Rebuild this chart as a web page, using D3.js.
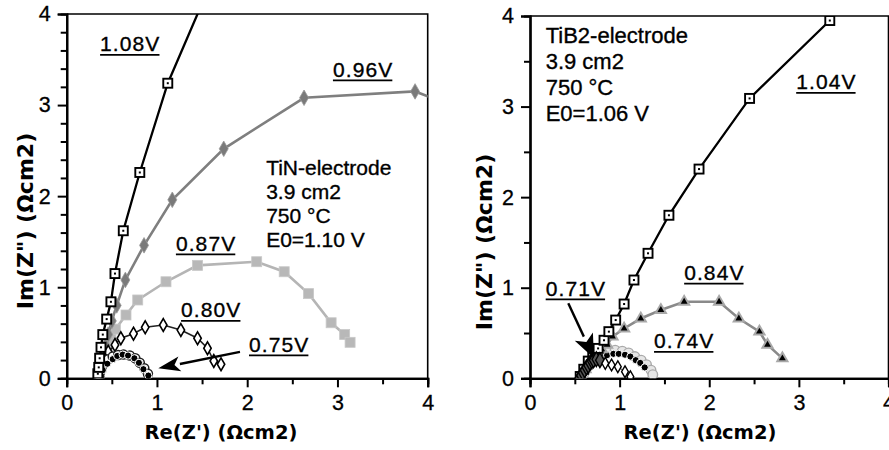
<!DOCTYPE html>
<html><head><meta charset="utf-8">
<script src="https://cdn.jsdelivr.net/npm/d3@7/dist/d3.min.js"></script>
<style>body{margin:0;background:#fff;} svg{display:block;}</style>
</head><body>
<svg id="c" width="889" height="450"></svg>
<script>
// ---------------- data ----------------
const majorTicks = [0, 1, 2, 3, 4];
const xMinorTicks = [0.5, 1.5, 2.5, 3.5];
const tinMinorY = [0.2,0.4,0.6,0.8,1.2,1.4,1.6,1.8,2.2,2.4,2.6,2.8,3.2,3.4,3.6,3.8];
const tib2MinorY = [0.5, 1.5, 2.5, 3.5];
const xTitle = "Re(Z') (Ωcm2)";
const yTitle = 'Im(Z") (Ωcm2)';

// TiN electrode
const tinInfo = ["TiN-electrode", "3.9 cm2", "750 °C", "E0=1.10 V"];
const tinLabels = ["1.08V", "0.96V", "0.87V", "0.80V", "0.75V"];
const tin108X = [0.345,0.355,0.365,0.38,0.40,0.443,0.49,0.535,0.627,0.81,1.12,1.58];
const tin108Y = [0.05,0.12,0.22,0.34,0.48,0.65,0.84,1.15,1.62,2.26,3.24,4.30];
const tin096X = [0.35,0.37,0.40,0.43,0.46,0.50,0.554,0.65,0.857,1.17,1.74,2.63,3.86,4.30];
const tin096Y = [0.03,0.12,0.24,0.36,0.48,0.63,0.80,1.08,1.46,1.96,2.52,3.08,3.15,2.98];
const tin087X = [0.36,0.38,0.41,0.45,0.49,0.54,0.657,0.787,1.10,1.45,2.105,2.41,2.68,2.93,3.08,3.14];
const tin087Y = [0.03,0.12,0.22,0.33,0.43,0.54,0.695,0.86,1.06,1.24,1.28,1.17,0.93,0.61,0.48,0.395];
const tin080X = [0.35,0.37,0.39,0.42,0.46,0.535,0.60,0.74,0.87,1.07,1.265,1.45,1.56,1.63,1.71];
const tin080Y = [0.02,0.08,0.15,0.22,0.29,0.366,0.44,0.49,0.56,0.585,0.53,0.44,0.33,0.19,0.154];
const tin075RingX = [0.36,0.37,0.39,0.42,0.46,0.51,0.57,0.63,0.70,0.76,0.81,0.86,0.90];
const tin075RingY = [0.02,0.07,0.12,0.17,0.21,0.24,0.255,0.26,0.25,0.22,0.17,0.11,0.05];
const tin075DotX = [0.40,0.45,0.51,0.56,0.62,0.68,0.75,0.80,0.85,0.905];
const tin075DotY = [0.09,0.16,0.21,0.245,0.26,0.25,0.22,0.17,0.10,0.03];

// TiB2 electrode
const tib2Info = ["TiB2-electrode", "3.9 cm2", "750 °C", "E0=1.06 V"];
const tib2Labels = ["1.04V", "0.84V", "0.74V", "0.71V"];
const tib104X = [0.56,0.60,0.65,0.70,0.76,0.826,0.88,0.956,1.05,1.16,1.317,1.55,1.886,2.45,3.345];
const tib104Y = [0.02,0.10,0.19,0.26,0.33,0.42,0.515,0.643,0.82,1.085,1.38,1.80,2.31,3.09,3.95];
const tib084X = [0.57,0.62,0.68,0.75,0.80,0.86,0.92,1.05,1.236,1.46,1.72,2.11,2.33,2.56,2.65,2.816];
const tib084Y = [0.02,0.10,0.18,0.26,0.32,0.37,0.46,0.55,0.66,0.754,0.845,0.845,0.66,0.515,0.37,0.22];
const tib074RingX = [0.60,0.66,0.72,0.79,0.87,0.95,1.03,1.10,1.17,1.24,1.30,1.35,1.37];
const tib074RingY = [0.05,0.14,0.22,0.27,0.30,0.31,0.30,0.28,0.24,0.20,0.15,0.09,0.04];
const tib074DotX = [0.62,0.68,0.75,0.80,0.86,0.93,0.99,1.06,1.12,1.18,1.23,1.28];
const tib074DotY = [0.08,0.15,0.20,0.235,0.255,0.27,0.27,0.26,0.24,0.20,0.17,0.12];
const tib071X = [0.55,0.57,0.59,0.61,0.63,0.65,0.67,0.69,0.71,0.74,0.78,0.84,0.91,0.98,1.06,1.12];
const tib071Y = [0.00,0.03,0.06,0.09,0.12,0.14,0.17,0.19,0.20,0.21,0.20,0.165,0.147,0.128,0.073,0.018];

// ---------------- drawing ----------------
const svg = d3.select("#c");
const FONT = "'Liberation Sans', Arial, sans-serif";
const TITLEFONT = "'DejaVu Sans', sans-serif";

function zip(xs, ys){ return xs.map((x,i)=>({x:x, y:ys[i], i:i})); }

function drawPanel(cfg){
  const x = d3.scaleLinear().domain([0,4]).range(cfg.xr);
  const y = d3.scaleLinear().domain([0,4]).range(cfg.yr);
  const g = svg.append("g");
  const clipId = "clip" + cfg.id;
  svg.append("clipPath").attr("id", clipId).append("rect")
     .attr("x", cfg.xr[0]).attr("y", cfg.yr[1])
     .attr("width", cfg.xr[1]-cfg.xr[0]).attr("height", cfg.yr[0]-cfg.yr[1]);

  // frame (top/right)
  g.append("path").attr("fill","none").attr("stroke","#000").attr("stroke-width",1.6)
   .attr("d", `M${x(0)},${y(4)}H${x(4)}V${y(0)}`);

  // axes
  const xMaj = d3.axisBottom(x).tickValues(majorTicks).tickSize(9).tickPadding(7).tickFormat(d3.format("d"));
  const xMin = d3.axisBottom(x).tickValues(xMinorTicks).tickSize(6).tickFormat("");
  const yMaj = d3.axisLeft(y).tickValues(majorTicks).tickSize(9).tickPadding(7).tickFormat(d3.format("d"));
  const yMin = d3.axisLeft(y).tickValues(cfg.yMinor).tickSize(6).tickFormat("");
  [[xMin,"b"],[xMaj,"b"],[yMin,"l"],[yMaj,"l"]].forEach(([ax,side])=>{
    const a = g.append("g").attr("transform", side==="b" ? `translate(0,${y(0)})` : `translate(${x(0)},0)`).call(ax);
    a.select(".domain").attr("stroke-width",2.2).attr("stroke","#000");
    a.selectAll(".tick line").attr("stroke","#000").attr("stroke-width",2);
    a.selectAll("text").attr("font-family", FONT).attr("font-size", 21.5).attr("fill","#000")
      .attr("stroke","#000").attr("stroke-width",0.3);
  });

  // axis titles
  g.append("text").attr("x", cfg.xTitleX).attr("y", 439).attr("text-anchor","middle")
    .attr("font-family", TITLEFONT).attr("font-weight","bold").attr("font-size", 19.5).text(xTitle);
  g.append("text").attr("transform", `translate(${cfg.yTitleX},${cfg.yTitleY}) rotate(-90)`)
    .attr("text-anchor","middle").attr("font-family", TITLEFONT).attr("font-weight","bold")
    .attr("font-size", cfg.yTitleSize).text(yTitle);

  const plot = g.append("g").attr("clip-path", `url(#${clipId})`);
  const line = d3.line().x(d=>x(d.x)).y(d=>y(d.y));

  cfg.series.forEach(s=>{
    const pts = zip(s.xs, s.ys);
    if (s.line) plot.append("path").datum(pts).attr("d", line).attr("fill","none")
        .attr("stroke", s.line).attr("stroke-width", s.lw).attr("stroke-dasharray", s.dash || null);
    const m = plot.append("g").selectAll("g").data(pts).join("g")
      .attr("transform", d=>`translate(${x(d.x)},${y(d.y)})`);
    s.marker(m);
  });

  // annotations
  const labelG = g.append("g");
  cfg.labels.forEach(l=>{
    const t = labelG.append("text").attr("x", x(l.x)).attr("y", y(l.y))
      .attr("font-family", FONT).attr("font-size", 21).attr("letter-spacing", 1.1)
      .attr("stroke","#000").attr("stroke-width",0.35).text(l.text);
    const w = t.node().getComputedTextLength();
    labelG.append("line").attr("x1", x(l.x)).attr("x2", x(l.x)+w-1)
      .attr("y1", y(l.y)+3.5).attr("y2", y(l.y)+3.5).attr("stroke","#000").attr("stroke-width",1.8);
  });
  const info = g.append("text").attr("font-family", FONT).attr("font-size", cfg.infoSize)
    .attr("stroke","#000").attr("stroke-width",0.35);
  cfg.info.forEach((s,i)=>{
    info.append("tspan").attr("x", x(cfg.infoPos[0])).attr("y", y(cfg.infoPos[1]) + i*cfg.infoStep).text(s);
  });
  // arrow
  const a = cfg.arrow;
  const x1 = x(a.from[0]), y1 = y(a.from[1]), x2 = x(a.to[0]), y2 = y(a.to[1]);
  const ang = Math.atan2(y2-y1, x2-x1);
  const L = a.headLen, W = a.headW;
  const bx = x2 - L*Math.cos(ang), by = y2 - L*Math.sin(ang);
  g.append("line").attr("x1",x1).attr("y1",y1).attr("x2",bx).attr("y2",by)
    .attr("stroke","#000").attr("stroke-width",2.4);
  g.append("path").attr("fill","#000").attr("d",
    `M${x2},${y2}L${bx - W/2*Math.sin(ang)},${by + W/2*Math.cos(ang)}L${bx + L*0.25*Math.cos(ang)},${by + L*0.25*Math.sin(ang)}L${bx + W/2*Math.sin(ang)},${by - W/2*Math.cos(ang)}Z`);
}

// marker painters
const sqDot = m => { m.append("rect").attr("x",-4.5).attr("y",-4.5).attr("width",9).attr("height",9)
    .attr("fill","#fff").attr("stroke","#000").attr("stroke-width",1.9);
  m.append("rect").attr("x",-1).attr("y",-1).attr("width",2).attr("height",2).attr("fill","#000"); };
const grayDiamond = m => m.append("path").attr("d", d3.symbol(d3.symbolDiamond, 70)())
    .attr("fill","#7a7a7a").attr("stroke","#999").attr("stroke-width",0.8);
const lightSquare = m => m.append("rect").attr("x",-5).attr("y",-5).attr("width",10).attr("height",10)
    .attr("fill","#b8b8b8").attr("stroke","#c8c8c8").attr("stroke-width",0.8);
const openDiamond = m => m.append("path").attr("d", d3.symbol(d3.symbolDiamond, 48)())
    .attr("fill","#fff").attr("stroke","#000").attr("stroke-width",1.6);
const ring = m => m.append("circle").attr("r",4.5).attr("fill","#fff").attr("stroke","#222").attr("stroke-width",1.5);
const lightRing = m => m.append("circle").attr("r",4.8).attr("fill","#e6e6e6").attr("stroke","#aaa").attr("stroke-width",1.4);
const dot = m => m.append("circle").attr("r",3.6).attr("fill","#000").attr("stroke","#fff").attr("stroke-width",1);
const triMark = m => { m.append("path").attr("d", d3.symbol(d3.symbolTriangle, 80)()).attr("fill","#a8a8a8");
    m.append("path").attr("d", d3.symbol(d3.symbolTriangle, 20)()).attr("fill","#000"); };
// 0.71V: dense dark hatched markers on the rising branch, open diamonds on the falling branch
const hatchDiamond = m => m.append("path").attr("d", d => d3.symbol(d3.symbolDiamond, d.i < 11 ? 64 : 40)())
    .attr("fill", d => d.i < 11 ? "#555" : "#fff").attr("stroke","#000").attr("stroke-width",1.4);

drawPanel({
  id: "tin", xr: [66.7, 427.7], yr: [378.3, 14], yMinor: tinMinorY,
  xTitleX: 221, yTitleX: 33, yTitleY: 221, yTitleSize: 22,
  series: [
    {xs: tin087X, ys: tin087Y, line: "#b5b5b5", lw: 2.6, marker: lightSquare},
    {xs: tin096X, ys: tin096Y, line: "#7f7f7f", lw: 2.6, marker: grayDiamond},
    {xs: tin080X, ys: tin080Y, line: "#222", lw: 1.6, marker: openDiamond},
    {xs: tin075RingX, ys: tin075RingY, line: null, marker: ring},
    {xs: tin075DotX, ys: tin075DotY, line: "#555", lw: 1, dash: "2,2", marker: dot},
    {xs: tin108X, ys: tin108Y, line: "#000", lw: 2.3, marker: sqDot}
  ],
  labels: [
    {text: tinLabels[0], x: 0.37, y: 3.59},
    {text: tinLabels[1], x: 2.95, y: 3.31},
    {text: tinLabels[2], x: 1.21, y: 1.40},
    {text: tinLabels[3], x: 1.267, y: 0.67},
    {text: tinLabels[4], x: 2.02, y: 0.29}
  ],
  info: tinInfo, infoPos: [2.21, 2.23], infoStep: 24, infoSize: 21,
  arrow: {from: [1.92, 0.29], to: [1.015, 0.11], headLen: 22, headW: 15}
});

drawPanel({
  id: "tib2", xr: [530, 888.5], yr: [378.3, 16], yMinor: tib2MinorY,
  xTitleX: 700, yTitleX: 492, yTitleY: 242, yTitleSize: 22,
  series: [
    {xs: tib074RingX, ys: tib074RingY, line: null, marker: lightRing},
    {xs: tib074DotX, ys: tib074DotY, line: "#555", lw: 1, dash: "2,2", marker: dot},
    {xs: tib084X, ys: tib084Y, line: "#8a8a8a", lw: 2.6, marker: triMark},
    {xs: tib104X, ys: tib104Y, line: "#000", lw: 2.3, marker: sqDot},
    {xs: tib071X, ys: tib071Y, line: "#666", lw: 1.2, marker: hatchDiamond}
  ],
  labels: [
    {text: tib2Labels[0], x: 2.97, y: 3.19},
    {text: tib2Labels[1], x: 1.72, y: 1.085},
    {text: tib2Labels[2], x: 1.384, y: 0.33},
    {text: tib2Labels[3], x: 0.175, y: 0.91}
  ],
  info: tib2Info, infoPos: [0.175, 3.70], infoStep: 25.8, infoSize: 22,
  arrow: {from: [0.427, 0.828], to: [0.714, 0.22], headLen: 24, headW: 20}
});
</script>
</body></html>
